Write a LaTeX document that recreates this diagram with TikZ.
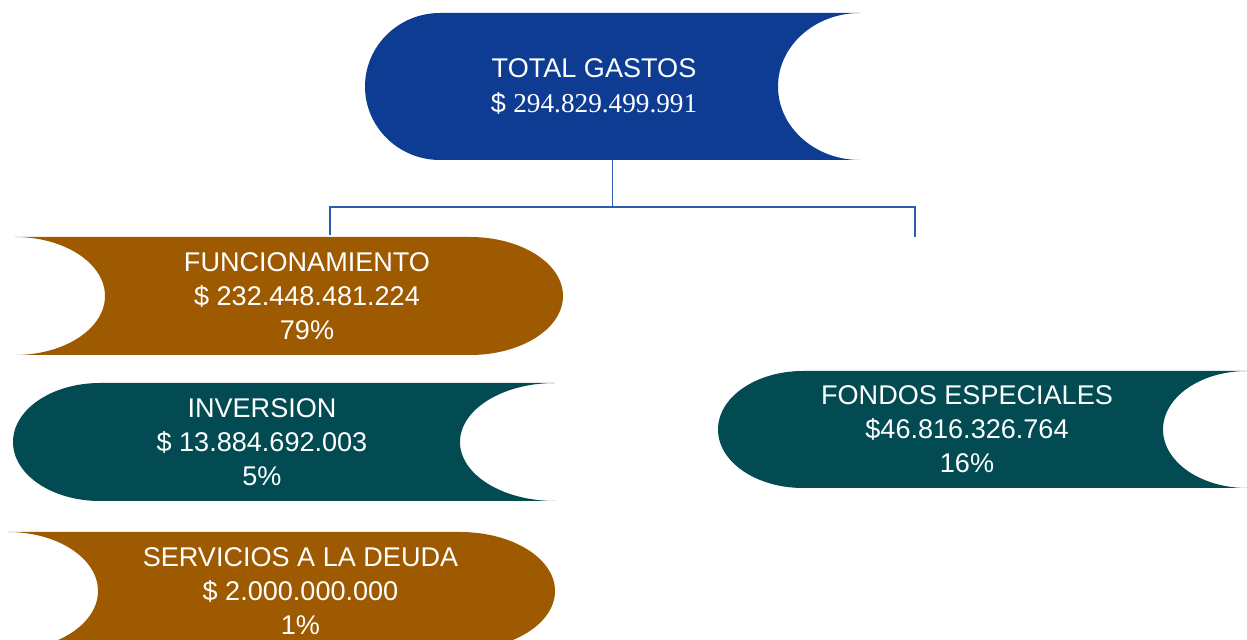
\documentclass[tikz,border=0pt]{standalone}
\usepackage{fontspec}
\usepackage{xcolor}
\setmainfont{Liberation Sans}
\newfontfamily\numfont{Liberation Serif}
\usetikzlibrary{positioning}

\definecolor{gastoblue}{RGB}{13,60,146}
\definecolor{gastobrown}{RGB}{157,90,0}
\definecolor{gastoteal}{RGB}{2,75,83}
\definecolor{gastoline}{RGB}{46,93,176}

\tikzset{
  % convex left end, concave right end: colour, width, height, bulge, depth
  cvxcav/.style n args={5}{minimum width=#2cm, minimum height=#3cm, inner sep=0pt, outer sep=0pt,
    path picture={\fill[#1] (path picture bounding box.north east)
      arc[start angle=90, end angle=270, x radius=#5cm, y radius=#3cm/2]
      -- ([xshift=#4cm]path picture bounding box.south west)
      arc[start angle=270, end angle=90, x radius=#4cm, y radius=#3cm/2] -- cycle;}},
  % concave left end, convex right end
  cavcvx/.style n args={5}{minimum width=#2cm, minimum height=#3cm, inner sep=0pt, outer sep=0pt,
    path picture={\fill[#1] ([xshift=-#4cm]path picture bounding box.north east)
      arc[start angle=90, end angle=-90, x radius=#4cm, y radius=#3cm/2]
      -- (path picture bounding box.south west)
      arc[start angle=-90, end angle=90, x radius=#5cm, y radius=#3cm/2] -- cycle;}},
  lbl/.style={text=white, align=center, inner sep=0pt, font=\fontsize{15.4}{19.4}\selectfont},
  conn/.style={draw=gastoline, line width=1.1pt}
}

\begin{document}
\begin{tikzpicture}
    \useasboundingbox (0,0) rectangle (24.94,-12.8);
    \node (tot) [cvxcav={gastoblue}{9.9}{2.94}{1.5}{1.64}] at (12.25,-1.73) {};
    \node (func) [cavcvx={gastobrown}{10.96}{2.36}{1.86}{1.8}] at (5.78,-5.92) {};
    \node (inv) [cvxcav={gastoteal}{10.84}{2.36}{1.74}{1.9}, below=0.56cm of func, xshift=-0.1cm] {};
    \node (serv) [cavcvx={gastobrown}{10.94}{2.36}{1.9}{1.8}, below=0.62cm of inv, xshift=-0.05cm] {};
    \node (fond) [cvxcav={gastoteal}{10.58}{2.34}{1.7}{1.68}] at (19.65,-8.59) {};

    \node (totT) [lbl, xshift=-0.37cm] at (tot) {TOTAL GASTOS\\\$ {\numfont\fontsize{15.5}{19.4}\selectfont 294.829.499.991}};
    \node (funcT) [lbl, xshift=0.36cm] at (func) {FUNCIONAMIENTO\\\$ 232.448.481.224\\79\%};
    \node (invT) [lbl, xshift=-0.44cm] at (inv) {INVERSION\\\$ 13.884.692.003\\5\%};
    \node (servT) [lbl, xshift=0.38cm] at (serv) {SERVICIOS A LA DEUDA\\\$ 2.000.000.000\\1\%};
    \node (fondT) [lbl, xshift=-0.31cm] at (fond) {FONDOS ESPECIALES\\\$46.816.326.764\\16\%};

    \coordinate (busL) at (6.6,-4.14);
    \coordinate (busR) at (18.3,-4.14);
    \coordinate (dropL) at (6.6,-4.7);
    \coordinate (dropR) at (18.3,-4.74);
    \path[conn] (tot.south) -- (tot.south |- busL);
    \path[conn] (dropL) -- (busL) -- (busR) -- (dropR);
\end{tikzpicture}
\end{document}
